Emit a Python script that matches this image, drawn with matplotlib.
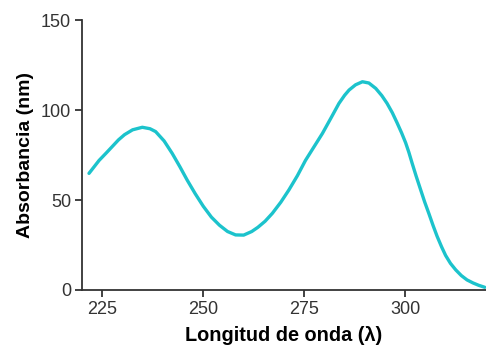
import matplotlib.pyplot as plt

wavelength = [221.7, 224.2, 226.0, 227.5, 229.0, 230.5, 232.5, 234.9, 236.8, 238.2,
              240.3, 242.3, 244.2, 246.0, 248.0, 250.0, 252.0, 254.0, 256.0, 258.0,
              260.0, 262.0, 263.5, 265.3, 267.1, 269.2, 271.2, 273.3, 275.3, 277.4,
              279.5, 281.6, 283.6, 285.0, 286.1, 287.7, 289.4, 291.0, 292.7, 294.2,
              295.5, 296.8, 298.0, 299.1, 300.1, 300.9, 301.7, 302.7, 303.8, 304.8,
              305.9, 306.9, 307.9, 309.0, 310.0, 311.2, 312.5, 313.9, 315.3, 316.8,
              318.2, 319.7]
absorbance = [64.8, 72.0, 76.2, 79.8, 83.4, 86.3, 89.0, 90.4, 89.6, 88.0,
              82.8, 75.9, 68.5, 61.1, 53.5, 46.5, 40.5, 36.0, 32.5, 30.6,
              30.5, 32.5, 34.8, 38.2, 42.6, 48.8, 55.6, 63.5, 72.0, 79.5,
              87.0, 95.5, 103.7, 108.2, 111.1, 114.0, 115.7, 115.0, 112.0, 108.0,
              103.7, 98.5, 92.8, 87.3, 81.8, 76.5, 70.5, 63.3, 55.8, 49.0,
              42.2, 35.8, 29.8, 24.0, 19.2, 14.8, 11.2, 8.0, 5.6, 3.9,
              2.6, 1.5]

xticks = [225, 250, 275, 300]
yticks = [0, 50, 100, 150]

plt.rcParams['font.family'] = ['Liberation Sans', 'DejaVu Sans']

fig = plt.figure(figsize=(4.86, 3.56), dpi=100)
ax = fig.add_axes([0.169, 0.1854, 0.831, 0.7584])

ax.plot(wavelength, absorbance, color='#1cc3cc', lw=2.4, solid_capstyle='round',
        solid_joinstyle='round', clip_on=False)

ax.set_xlim(220, 320)
ax.set_ylim(0, 150)
ax.set_xticks(xticks)
ax.set_yticks(yticks)

for side in ['top', 'right']:
    ax.spines[side].set_visible(False)
for side in ['left', 'bottom']:
    ax.spines[side].set_color('#333333')
    ax.spines[side].set_linewidth(1.3)

ax.tick_params(axis='both', direction='out', length=5, width=1.3, color='#333333',
               labelsize=13, labelcolor='#333333', pad=3)

ax.set_xlabel('Longitud de onda (λ)', fontsize=14.3, fontweight='bold', labelpad=6)
ax.set_ylabel('Absorbancia (nm)', fontsize=14, fontweight='bold', labelpad=5)

fig.savefig('out.png', dpi=100)
